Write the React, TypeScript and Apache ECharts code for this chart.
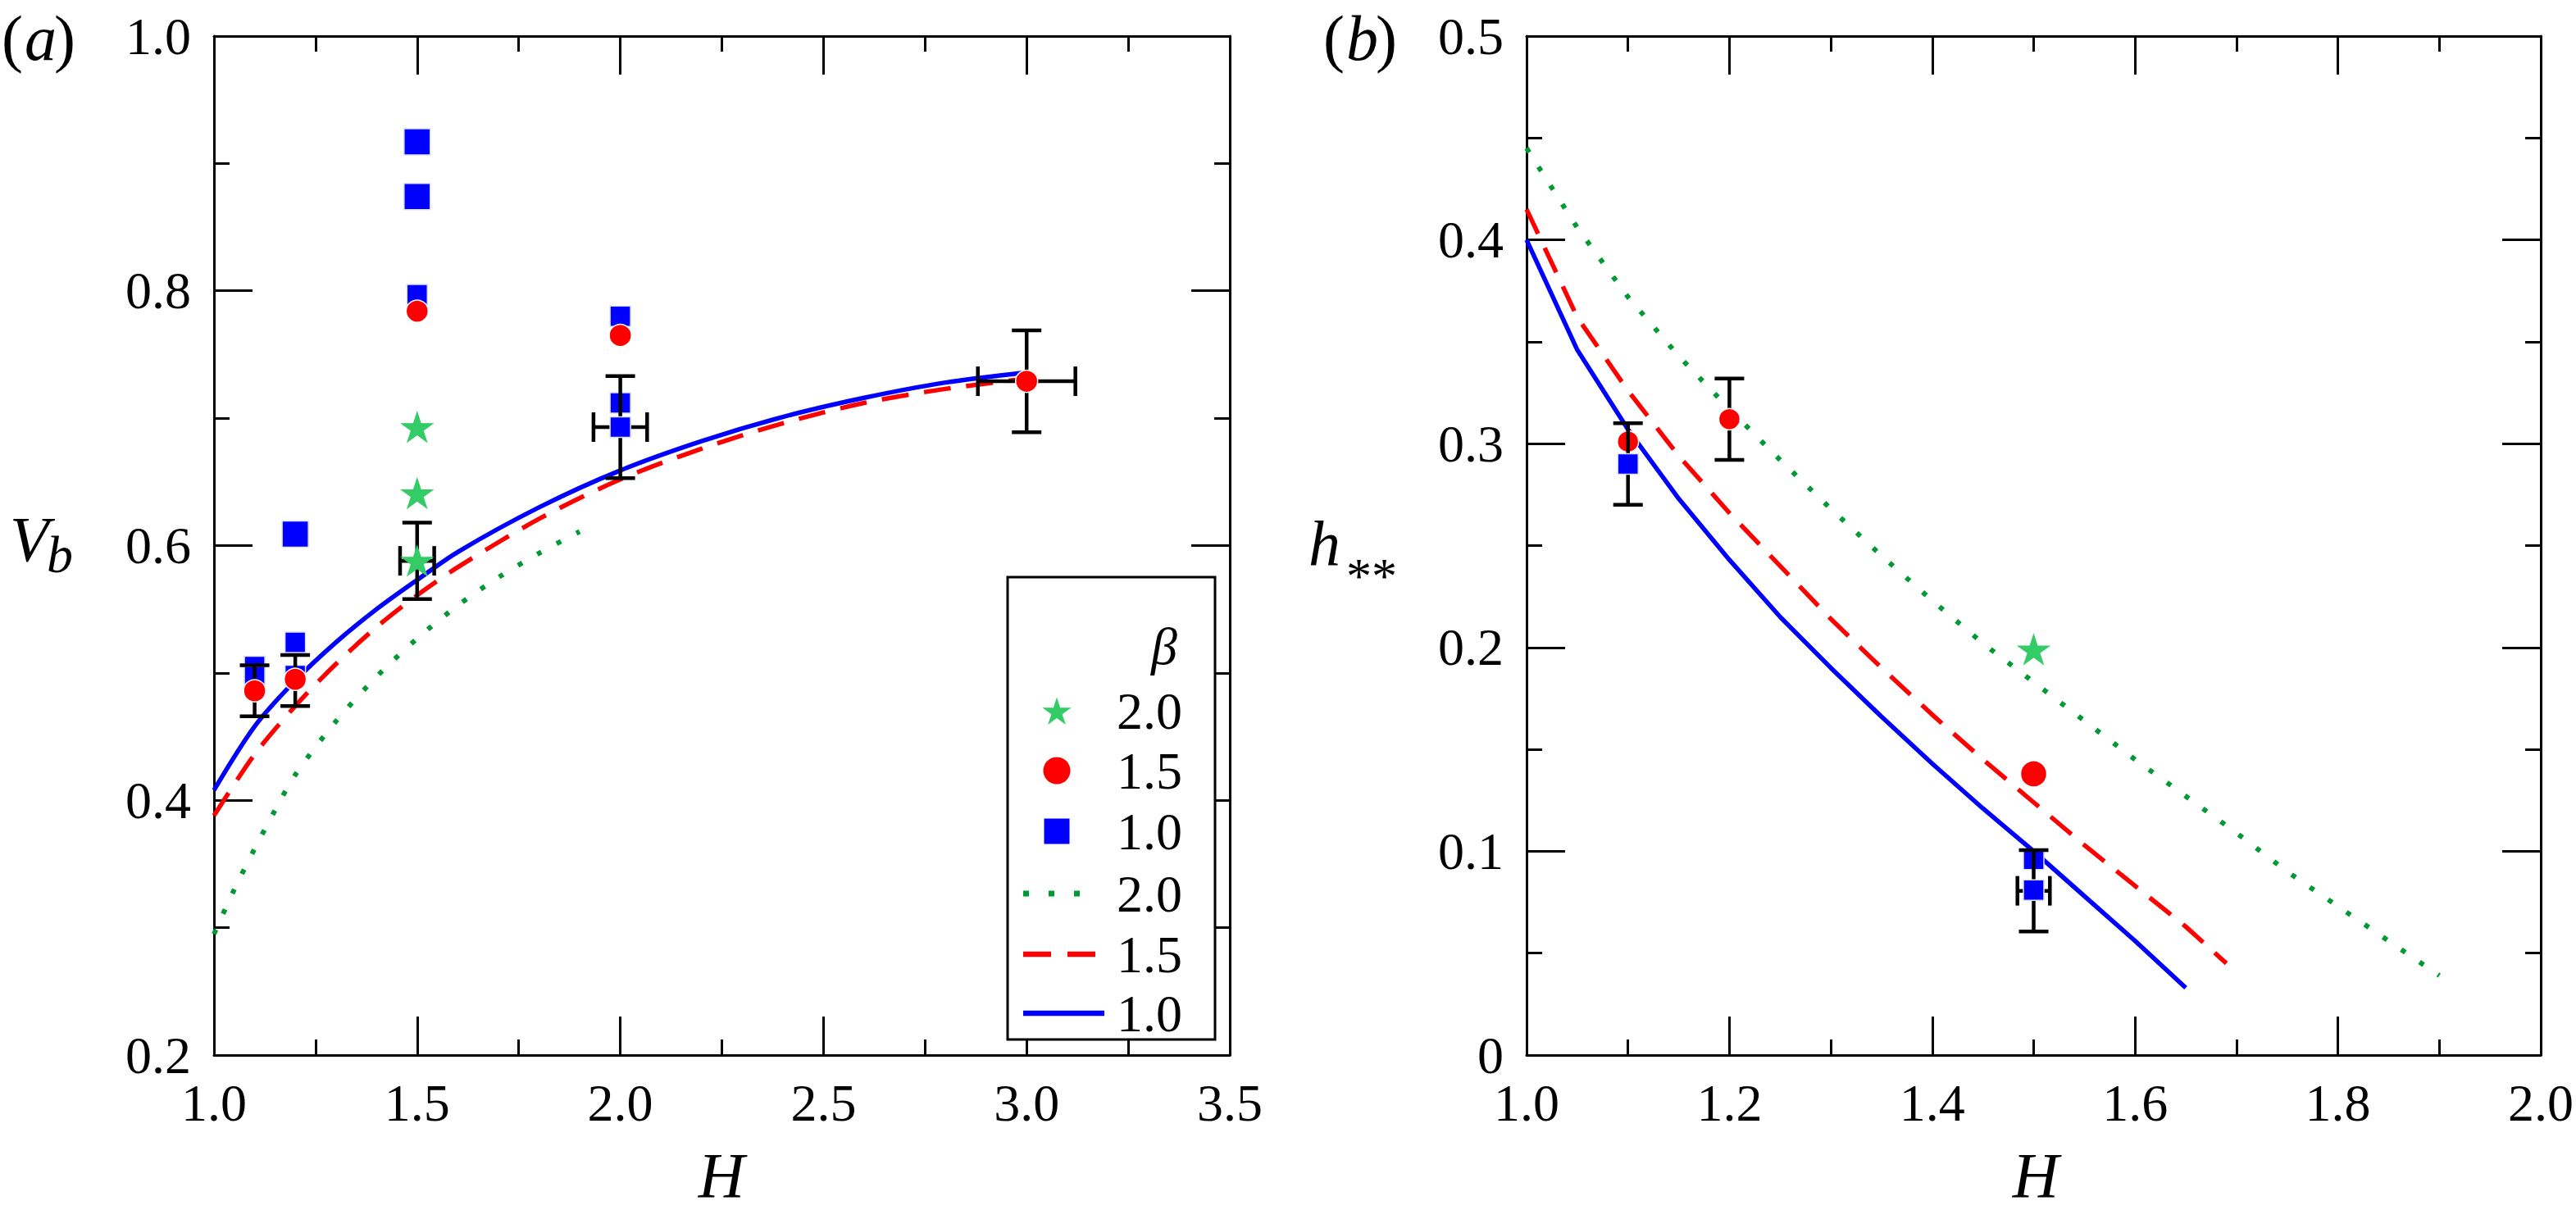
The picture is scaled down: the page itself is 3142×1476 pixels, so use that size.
import React, { useEffect, useRef } from 'react';
import * as echarts from 'echarts';

// ---------- data ----------
// panel (a): theory curves V_b(H)
const aCurveH = [1.0, 1.1, 1.2, 1.3, 1.4, 1.5, 1.6, 1.8, 2.0, 2.2, 2.4, 2.6, 2.8, 3.0];
const aBlue = [0.408, 0.458, 0.494, 0.524, 0.55, 0.573, 0.595, 0.63, 0.659, 0.682, 0.701, 0.716, 0.728, 0.736];
const aRed = [0.388, 0.436, 0.474, 0.507, 0.536, 0.561, 0.583, 0.621, 0.652, 0.676, 0.696, 0.712, 0.723, 0.731];
const aGreenH = [1.0, 1.05, 1.1, 1.15, 1.2, 1.3, 1.4, 1.5, 1.6, 1.7, 1.8, 1.9];
const aGreen = [0.295, 0.33, 0.362, 0.392, 0.42, 0.462, 0.497, 0.527, 0.553, 0.575, 0.594, 0.611];

// panel (a): measurements
const aStars = [[1.5, 0.693], [1.5, 0.641], [1.5, 0.588]];
const aCircles = [[1.1, 0.486], [1.2, 0.495], [1.5, 0.784], [2.0, 0.765], [3.0, 0.729]];
const aSquaresSmall = [[1.1, 0.505], [1.1, 0.497], [1.2, 0.524], [1.2, 0.498], [1.5, 0.797], [2.0, 0.78], [2.0, 0.712]];
const aSquaresLarge = [[1.2, 0.609], [1.5, 0.874], [1.5, 0.917]];
const aSquaresOnBar = [[2.0, 0.693]];
// [H, V, errV, errH]
const aErrors = [
  [1.1, 0.486, 0.02, 0],
  [1.2, 0.494, 0.02, 0],
  [1.5, 0.588, 0.03, 0.042],
  [2.0, 0.693, 0.04, 0.066],
  [3.0, 0.729, 0.04, 0.12],
];

// panel (b): theory curves h**(H)
const bBlueH = [1.0, 1.05, 1.1, 1.15, 1.2, 1.25, 1.3, 1.35, 1.4, 1.45, 1.5, 1.55, 1.6, 1.65];
const bBlue = [0.4, 0.346, 0.307, 0.273, 0.243, 0.215, 0.19, 0.166, 0.143, 0.121, 0.1, 0.078, 0.056, 0.033];
const bRedH = [1.0, 1.05, 1.1, 1.15, 1.2, 1.25, 1.3, 1.35, 1.4, 1.45, 1.5, 1.55, 1.6, 1.65, 1.69];
const bRed = [0.415, 0.362, 0.326, 0.294, 0.266, 0.24, 0.214, 0.19, 0.167, 0.145, 0.124, 0.103, 0.083, 0.063, 0.045];
const bGreenH = [1.0, 1.05, 1.1, 1.15, 1.2, 1.25, 1.3, 1.35, 1.4, 1.45, 1.5, 1.55, 1.6, 1.65, 1.7, 1.75, 1.8, 1.85, 1.9];
const bGreen = [0.445, 0.406, 0.372, 0.343, 0.317, 0.292, 0.268, 0.245, 0.223, 0.202, 0.183, 0.164, 0.145, 0.127, 0.109, 0.09, 0.073, 0.056, 0.039];

// panel (b): measurements
const bStars = [[1.5, 0.199]];
const bCirclesUnder = [[1.1, 0.301]];
const bCirclesOver = [[1.2, 0.312]];
const bCirclesLarge = [[1.5, 0.138]];
const bSquaresUnder = [[1.5, 0.096]];
const bSquaresOver = [[1.1, 0.29], [1.5, 0.081]];
const bErrors = [
  [1.1, 0.29, 0.02, 0],
  [1.2, 0.312, 0.02, 0],
  [1.5, 0.0806, 0.02, 0.016],
];

// legend texts
const legendTitle = 'β';
const legendLabels = ['2.0', '1.5', '1.0', '2.0', '1.5', '1.0'];

// ---------- styling ----------
const FONT = 'Liberation Serif';
const BLUE = '#0000ff';
const RED = '#ff0000';
const STAR_GREEN = '#33cc66';
const DOT_GREEN = '#009933';

const starPath =
  'path://' +
  Array.from({ length: 10 }, (_, i) => {
    const r = i % 2 === 0 ? 1 : 0.382;
    const a = -Math.PI / 2 + (i * Math.PI) / 5;
    return `${i === 0 ? 'M' : 'L'}${(r * Math.cos(a)).toFixed(4)} ${(r * Math.sin(a)).toFixed(4)}`;
  }).join(' ') +
  ' Z';

function starPoints(cx: number, cy: number, R: number) {
  return Array.from({ length: 10 }, (_, i) => {
    const r = i % 2 === 0 ? R : R * 0.382;
    const a = -Math.PI / 2 + (i * Math.PI) / 5;
    return [cx + r * Math.cos(a), cy + r * Math.sin(a)];
  });
}

const fmt1 = (v: number) => v.toFixed(1);
const fmtB = (v: number) => (Math.abs(v) < 1e-9 ? '0' : v.toFixed(1));

function axis(gridIndex: number, position: string, min: number, max: number, interval: number, showLabel: boolean, formatter: any, margin: number) {
  return {
    type: 'value',
    gridIndex,
    position,
    min,
    max,
    interval,
    axisLine: { show: true, onZero: false, lineStyle: { color: '#000', width: 3 } },
    axisTick: { show: true, inside: true, length: 47, lineStyle: { color: '#000', width: 3 } },
    minorTick: { show: true, splitNumber: 2, length: 19, lineStyle: { color: '#000', width: 3 } },
    splitLine: { show: false },
    minorSplitLine: { show: false },
    axisLabel: { show: showLabel, fontFamily: FONT, fontSize: 64, color: '#000', margin, formatter },
  };
}

function curve(xs: number[], ys: number[], color: string, type: any, width: number, smooth: any, idx: number) {
  return {
    type: 'line',
    xAxisIndex: idx,
    yAxisIndex: idx,
    data: xs.map((x, i) => [x, ys[i]]),
    showSymbol: false,
    symbol: 'none',
    smooth,
    lineStyle: { color, width, type, cap: 'butt' },
    z: 2,
    silent: true,
  };
}

function scatter(data: number[][], symbol: string, size: any, color: string, z: number, idx: number, border = '#ffffff') {
  return {
    type: 'scatter',
    xAxisIndex: idx,
    yAxisIndex: idx,
    data,
    symbol,
    symbolSize: size,
    itemStyle: { color, borderColor: border, borderWidth: 1.5, opacity: 1 },
    z,
    silent: true,
  };
}

function errorBars(data: number[][], idx: number) {
  return {
    type: 'custom',
    xAxisIndex: idx,
    yAxisIndex: idx,
    data,
    z: 4,
    silent: true,
    encode: { x: 0, y: 1 },
    renderItem: (params: any, api: any) => {
      const x = api.value(0);
      const y = api.value(1);
      const ey = api.value(2);
      const ex = api.value(3);
      const c = api.coord([x, y]);
      const t = api.coord([x, y + ey]);
      const b = api.coord([x, y - ey]);
      const st = { stroke: '#000', lineWidth: 4.5 };
      const ln = (x1: number, y1: number, x2: number, y2: number) => ({ type: 'line', shape: { x1, y1, x2, y2 }, style: st });
      const cap = 18;
      const ch: any[] = [
        ln(c[0], t[1], c[0], b[1]),
        ln(c[0] - cap, t[1], c[0] + cap, t[1]),
        ln(c[0] - cap, b[1], c[0] + cap, b[1]),
      ];
      if (ex > 0) {
        const l = api.coord([x - ex, y]);
        const r = api.coord([x + ex, y]);
        ch.push(ln(l[0], c[1], r[0], c[1]), ln(l[0], c[1] - cap, l[0], c[1] + cap), ln(r[0], c[1] - cap, r[0], c[1] + cap));
      }
      return { type: 'group', children: ch };
    },
  };
}

const DASH = [33, 19];
const DOT = [6, 21];

function txt(x: number, y: number, text: string, size: number, italic: boolean, align = 'left', extra: any = {}) {
  const style: any = {
    text,
    fontSize: size,
    fontFamily: FONT,
    fill: '#000',
    align,
    verticalAlign: 'middle',
    ...extra,
  };
  if (italic) style.fontStyle = 'italic';
  return { type: 'text', x, y, z: 101, style };
}

function buildOption() {
  const legendX = 1229;
  const legendY = 704;
  const rowsY = [867, 940, 1014, 1090, 1164, 1236];
  const symX = 1289;
  const textX = 1362;

  const legendEls: any[] = [
    { type: 'rect', shape: { x: legendX, y: legendY, width: 253, height: 564 }, style: { fill: '#fff', stroke: '#000', lineWidth: 3 }, z: 100 },
    txt(1420, 788, legendTitle, 64, true, 'center'),
    { type: 'polygon', shape: { points: starPoints(symX, rowsY[0] + 2, 18.5) }, style: { fill: STAR_GREEN }, z: 101 },
    { type: 'circle', shape: { cx: symX, cy: rowsY[1], r: 16.5 }, style: { fill: RED }, z: 101 },
    { type: 'rect', shape: { x: symX - 15.5, y: rowsY[2] - 15.5, width: 31, height: 31 }, style: { fill: BLUE }, z: 101 },
    { type: 'line', shape: { x1: 1248, y1: rowsY[3], x2: 1341, y2: rowsY[3] }, style: { stroke: DOT_GREEN, lineWidth: 7, lineDash: [7, 24] }, z: 101 },
    { type: 'line', shape: { x1: 1248, y1: rowsY[4], x2: 1337, y2: rowsY[4] }, style: { stroke: RED, lineWidth: 6.5, lineDash: [34, 20] }, z: 101 },
    { type: 'line', shape: { x1: 1248, y1: rowsY[5], x2: 1347, y2: rowsY[5] }, style: { stroke: BLUE, lineWidth: 6.5 }, z: 101 },
  ];
  legendLabels.forEach((t, i) => {
    legendEls.push(txt(textX, rowsY[i], t, 64, false));
  });

  const titles: any[] = [
    txt(2, 46, '(', 78, false),
    txt(30, 46, 'a', 78, true),
    txt(66, 46, ')', 78, false),
    txt(1614, 46, '(', 78, false),
    txt(1642, 46, 'b', 78, true),
    txt(1678, 46, ')', 78, false),
    txt(12, 657, 'V', 78, true),
    txt(57, 676, 'b', 64, true),
    txt(1596, 663, 'h', 78, true),
    txt(1642, 702, '**', 62, false),
    txt(880, 1433, 'H', 78, true, 'center'),
    txt(2483, 1433, 'H', 78, true, 'center'),
  ];

  return {
    animation: false,
    backgroundColor: '#ffffff',
    textStyle: { fontFamily: FONT },
    grid: [
      { left: 261, top: 44, width: 1239, height: 1243, show: false },
      { left: 1862, top: 44, width: 1241, height: 1243, show: false },
    ],
    xAxis: [
      axis(0, 'bottom', 1, 3.5, 0.5, true, fmt1, 26),
      axis(0, 'top', 1, 3.5, 0.5, false, fmt1, 26),
      axis(1, 'bottom', 1, 2, 0.2, true, fmt1, 26),
      axis(1, 'top', 1, 2, 0.2, false, fmt1, 26),
    ],
    yAxis: [
      axis(0, 'left', 0.2, 1.0, 0.2, true, fmt1, 28),
      axis(0, 'right', 0.2, 1.0, 0.2, false, fmt1, 28),
      axis(1, 'left', 0, 0.5, 0.1, true, fmtB, 28),
      axis(1, 'right', 0, 0.5, 0.1, false, fmtB, 28),
    ],
    series: [
      // panel (a)
      curve(aGreenH, aGreen, DOT_GREEN, DOT, 6, 0.3, 0),
      curve(aCurveH, aRed, RED, DASH, 5.5, 0.3, 0),
      curve(aCurveH, aBlue, BLUE, 'solid', 5.5, 0.3, 0),
      scatter(aSquaresSmall, 'rect', 25, BLUE, 3, 0, '#dde0ff'),
      scatter(aSquaresLarge, 'rect', 32, BLUE, 3, 0, '#dde0ff'),
      errorBars(aErrors, 0),
      scatter(aSquaresOnBar, 'rect', 25, BLUE, 5, 0, '#dde0ff'),
      scatter(aCircles, 'circle', 27, RED, 5, 0),
      scatter(aStars, starPath, [37, 35], STAR_GREEN, 5, 0, STAR_GREEN),
      // panel (b)
      curve(bGreenH, bGreen, DOT_GREEN, DOT, 6, false, 2),
      curve(bRedH, bRed, RED, DASH, 5.5, false, 2),
      curve(bBlueH, bBlue, BLUE, 'solid', 5.5, false, 2),
      scatter(bSquaresUnder, 'rect', 25, BLUE, 3, 2, '#dde0ff'),
      scatter(bCirclesUnder, 'circle', 26, RED, 3, 2),
      errorBars(bErrors, 2),
      scatter(bSquaresOver, 'rect', 25, BLUE, 5, 2, '#dde0ff'),
      scatter(bCirclesOver, 'circle', 26, RED, 5, 2),
      scatter(bCirclesLarge, 'circle', 32, RED, 5, 2),
      scatter(bStars, starPath, [37, 35], STAR_GREEN, 5, 2, STAR_GREEN),
    ],
    graphic: [...titles, ...legendEls],
  };
}

export default function App() {
  const ref = useRef<HTMLDivElement>(null);
  useEffect(() => {
    document.body.style.margin = '0';
    const chart = echarts.init(ref.current as HTMLDivElement, null, { renderer: 'svg' });
    chart.setOption(buildOption() as any);
    return () => chart.dispose();
  }, []);
  return <div ref={ref} style={{ width: 3142, height: 1476, background: '#fff' }} />;
}
